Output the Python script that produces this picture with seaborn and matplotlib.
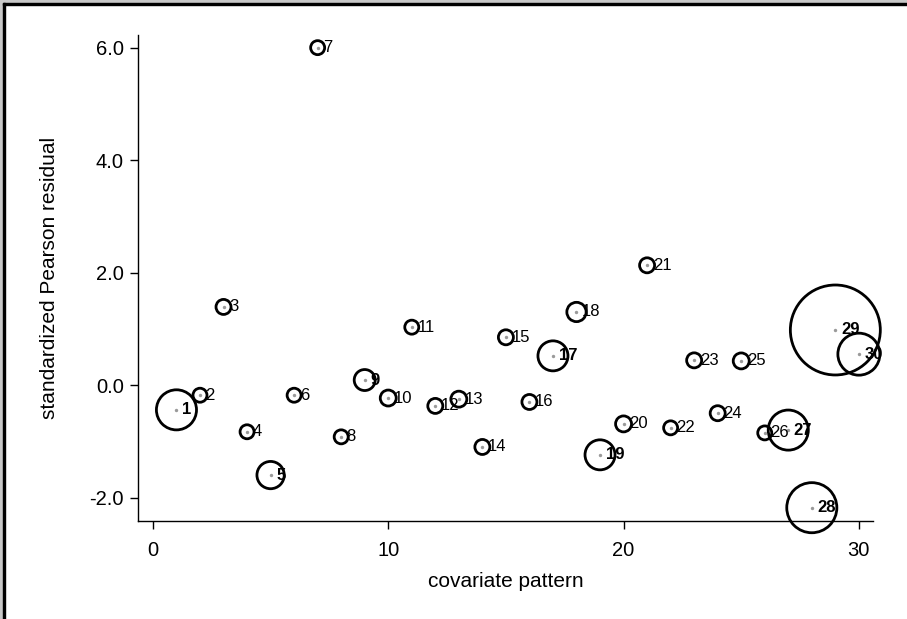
import numpy as np
import pandas as pd
import seaborn as sns
import matplotlib.pyplot as plt
from matplotlib.patches import Rectangle

# covariate patterns 1..30
pattern = list(range(1, 31))

# standardized Pearson residual per pattern
residual = [-0.44, -0.18, 1.39, -0.83, -1.60, -0.18, 6.00, -0.92, 0.09, -0.23,
            1.03, -0.37, -0.25, -1.10, 0.85, -0.30, 0.52, 1.30, -1.24, -0.69,
            2.13, -0.76, 0.44, -0.50, 0.43, -0.85, -0.80, -2.18, 0.98, 0.55]

# bubble weight (area of circle)
weight = [8.2, 1.0, 1.15, 1.0, 3.8, 1.0, 1.0, 1.0, 2.25, 1.3,
          1.0, 1.15, 1.3, 1.15, 1.15, 1.15, 4.6, 1.9, 4.6, 1.3,
          1.15, 1.0, 1.15, 1.15, 1.3, 1.0, 8.2, 12.8, 41.3, 9.0]

df = pd.DataFrame({'pattern': pattern, 'residual': residual, 'weight': weight})

sns.set_style('white')
plt.rcParams['font.family'] = ['Liberation Sans', 'DejaVu Sans']
plt.rcParams['axes.unicode_minus'] = False
for key in ['text.color', 'axes.labelcolor', 'xtick.color', 'ytick.color']:
    plt.rcParams[key] = 'black'

fig = plt.figure(figsize=(9.07, 6.19), dpi=100)
ax = fig.add_axes([0.152, 0.158, 0.8105, 0.785])

wmax = max(weight)
sns.scatterplot(data=df, x='pattern', y='residual', size='weight',
                sizes=(0, 101.6 * wmax), size_norm=(0, wmax),
                facecolors='none', edgecolor='black', linewidth=2.0,
                legend=False, ax=ax, zorder=3, clip_on=False)
# small grey centre dots
sns.scatterplot(data=df, x='pattern', y='residual', s=6, color='#9a9a9a',
                linewidth=0, legend=False, ax=ax, zorder=4, clip_on=False)

for p, r, w in zip(pattern, residual, weight):
    ax.annotate(str(p), (p, r), xytext=(4.0, 0), textcoords='offset points',
                ha='left', va='center', fontsize=12, color='black',
                fontweight='bold' if w > 2 else 'normal', zorder=5)

ax.set_xlim(-0.64, 30.6)
ax.set_ylim(-2.42, 6.22)
ax.set_xticks([0, 10, 20, 30])
ax.set_yticks([-2, 0, 2, 4, 6])
ax.set_yticklabels([f'{v:.1f}' for v in [-2, 0, 2, 4, 6]])
ax.tick_params(axis='both', direction='out', length=6, width=1, color='black',
               labelsize=14.5, labelcolor='black', bottom=True, left=True)
ax.tick_params(axis='x', pad=8)
ax.tick_params(axis='y', pad=4)
ax.set_xlabel('covariate pattern', fontsize=15, labelpad=9)
ax.set_ylabel('standardized Pearson residual', fontsize=15, labelpad=22)

for s in ['top', 'right']:
    ax.spines[s].set_visible(False)
for s in ['left', 'bottom']:
    ax.spines[s].set_color('black')
    ax.spines[s].set_linewidth(1)

# screenshot frame: grey strip and black border top/left
W, H = 907, 619
fig.patches.append(Rectangle((0, 1 - 3 / H), 1, 3 / H, transform=fig.transFigure,
                             color='#c8c8c8', zorder=0))
fig.patches.append(Rectangle((0, 0), 3 / W, 1, transform=fig.transFigure,
                             color='#c8c8c8', zorder=0))
fig.patches.append(Rectangle((3 / W, 1 - 5 / H), 1, 2 / H, transform=fig.transFigure,
                             color='black', zorder=1))
fig.patches.append(Rectangle((3 / W, 0), 2 / W, 1 - 3 / H, transform=fig.transFigure,
                             color='black', zorder=1))

fig.savefig('out.png', dpi=100)
